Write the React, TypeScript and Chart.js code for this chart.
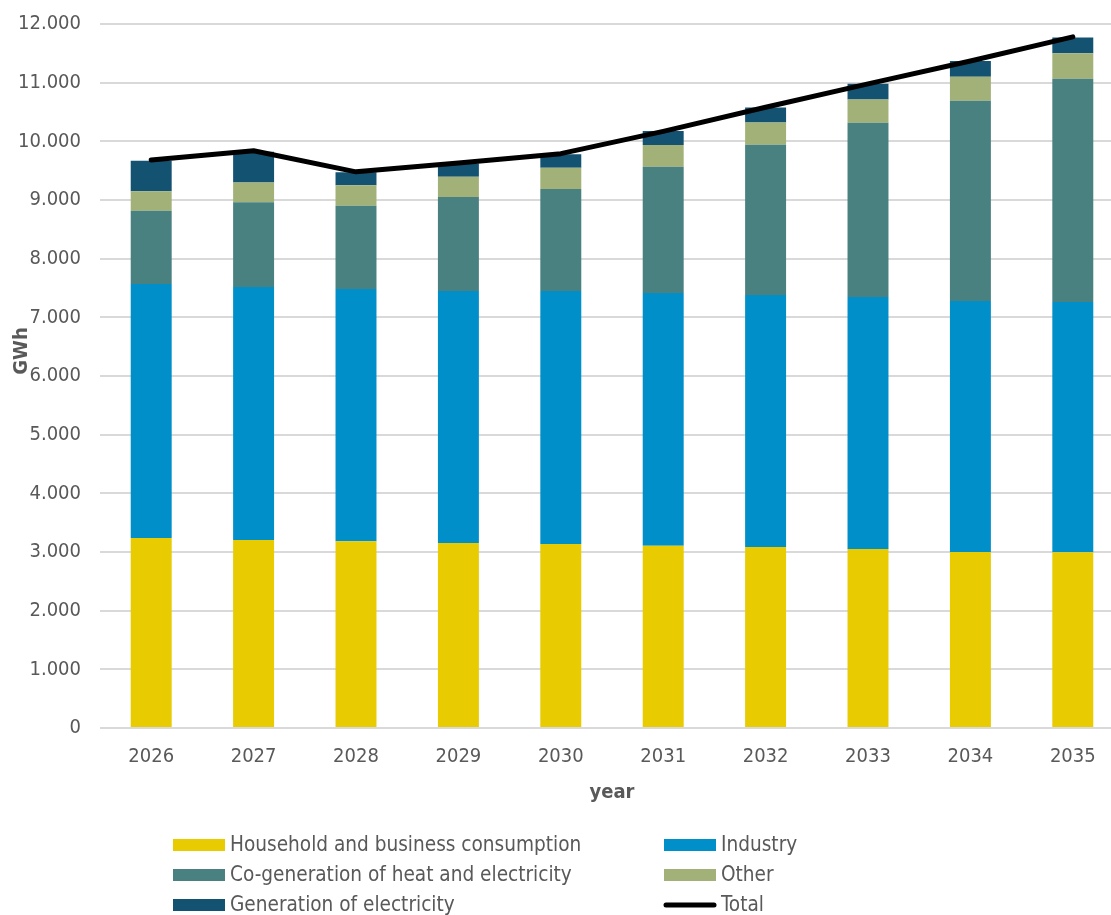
import React, { useEffect, useRef } from "react";
import { Chart, registerables } from "chart.js";

Chart.register(...registerables);

const years = ["2026", "2027", "2028", "2029", "2030", "2031", "2032", "2033", "2034", "2035"];
const household = [3240, 3205, 3185, 3155, 3135, 3105, 3085, 3050, 3000, 2995];
const industry = [4330, 4310, 4300, 4295, 4315, 4310, 4295, 4295, 4280, 4265];
const cogeneration = [1245, 1445, 1415, 1600, 1737, 2152, 2562, 2972, 3410, 3807];
const other = [336, 340, 350, 347, 363, 370, 378, 398, 410, 433];
const generation = [516, 523, 225, 225, 228, 239, 258, 265, 270, 270];
const total = [9680, 9840, 9480, 9630, 9790, 10170, 10580, 10980, 11370, 11780];

const FONT = '"DejaVu Sans Condensed", "DejaVu Sans", sans-serif';
const GREY = "#595959";

const fmt = (v: number) => {
  const s = Math.round(v).toString();
  return s.replace(/\B(?=(\d{3})+(?!\d))/g, ".");
};

const legendPlugin = {
  id: "customLegend",
  afterDraw(chart: any) {
    const ctx = chart.ctx;
    ctx.save();
    ctx.font = `20.6px ${FONT}`;
    ctx.textBaseline = "middle";
    ctx.textAlign = "left";
    chart.data.datasets.forEach((ds: any, i: number) => {
      const col = i % 2;
      const row = Math.floor(i / 2);
      const x = col === 0 ? 173 : 664;
      const y = 845 + row * 30;
      if (ds.type === "line") {
        ctx.strokeStyle = ds.borderColor;
        ctx.lineWidth = 5;
        ctx.lineCap = "round";
        ctx.beginPath();
        ctx.moveTo(x + 2, y);
        ctx.lineTo(x + 50, y);
        ctx.stroke();
      } else {
        ctx.fillStyle = ds.backgroundColor;
        ctx.fillRect(x, y - 6, 52, 12);
      }
      ctx.fillStyle = GREY;
      ctx.fillText(ds.label, x + 57, y + 1);
    });
    ctx.restore();
  },
};

const yTitlePlugin = {
  id: "yTitle",
  afterDraw(chart: any) {
    const ctx = chart.ctx;
    ctx.save();
    ctx.translate(22, 351);
    ctx.rotate(-Math.PI / 2);
    ctx.font = `bold 20px ${FONT}`;
    ctx.fillStyle = GREY;
    ctx.textAlign = "center";
    ctx.textBaseline = "middle";
    ctx.fillText("GWh", 0, 0);
    ctx.restore();
  },
};

export default function App() {
  const ref = useRef<HTMLCanvasElement | null>(null);

  useEffect(() => {
    document.body.style.margin = "0";
    const canvas = ref.current;
    if (!canvas) return;
    const chart = new Chart(canvas, {
      type: "bar",
      data: {
        labels: years,
        datasets: [
          { type: "bar", label: "Household and business consumption", data: household, backgroundColor: "#E8CB00", order: 1 },
          { type: "bar", label: "Industry", data: industry, backgroundColor: "#008FC9", order: 1 },
          { type: "bar", label: "Co-generation of heat and electricity", data: cogeneration, backgroundColor: "#48817F", order: 1 },
          { type: "bar", label: "Other", data: other, backgroundColor: "#A1B177", order: 1 },
          { type: "bar", label: "Generation of electricity", data: generation, backgroundColor: "#145272", order: 1 },
          {
            type: "line",
            label: "Total",
            data: total,
            borderColor: "#000000",
            backgroundColor: "#000000",
            borderWidth: 5,
            pointRadius: 0,
            borderCapStyle: "round",
            borderJoinStyle: "round",
            stack: "total",
            order: 0,
          } as any,
        ],
      },
      options: {
        responsive: false,
        animation: false,
        layout: { padding: { top: 0, bottom: 107, left: 0, right: 0 }, autoPadding: false },
        datasets: {
          bar: { categoryPercentage: 1, barPercentage: 0.4 },
        },
        plugins: {
          legend: { display: false },
          tooltip: { enabled: false },
        },
        scales: {
          x: {
            stacked: true,
            grid: { display: false },
            border: { display: false },
            ticks: { color: GREY, font: { family: FONT, size: 20 }, padding: 9 },
            title: {
              display: true,
              text: "year",
              color: GREY,
              font: { family: FONT, size: 20, weight: "bold" },
              padding: { top: 0, bottom: 3 },
            },
            afterFit: (s: any) => {
              s.height = 80;
            },
          },
          y: {
            stacked: true,
            min: 0,
            max: 12000,
            border: { display: false },
            grid: { color: "#d9d9d9", lineWidth: 2, drawTicks: false },
            ticks: {
              stepSize: 1000,
              color: GREY,
              font: { family: FONT, size: 20 },
              padding: 19,
              callback: (v: any) => fmt(Number(v)),
            },
            afterFit: (s: any) => {
              s.width = 100;
              s.paddingTop = 0;
              s.paddingBottom = 0;
            },
          },
        },
      },
      plugins: [
        legendPlugin,
        yTitlePlugin,
        {
          id: "fixArea",
          beforeLayout(chart: any) {
            chart.options.layout.padding = { top: 24, bottom: 107, left: 0, right: 0 };
          },
        },
      ],
    });
    return () => chart.destroy();
  }, []);

  return (
    <div style={{ width: 1111, height: 915, overflow: "hidden", position: "relative", background: "#fff" }}>
      <canvas ref={ref} width={1124} height={915} style={{ width: 1124, height: 915, display: "block" }} />
    </div>
  );
}
